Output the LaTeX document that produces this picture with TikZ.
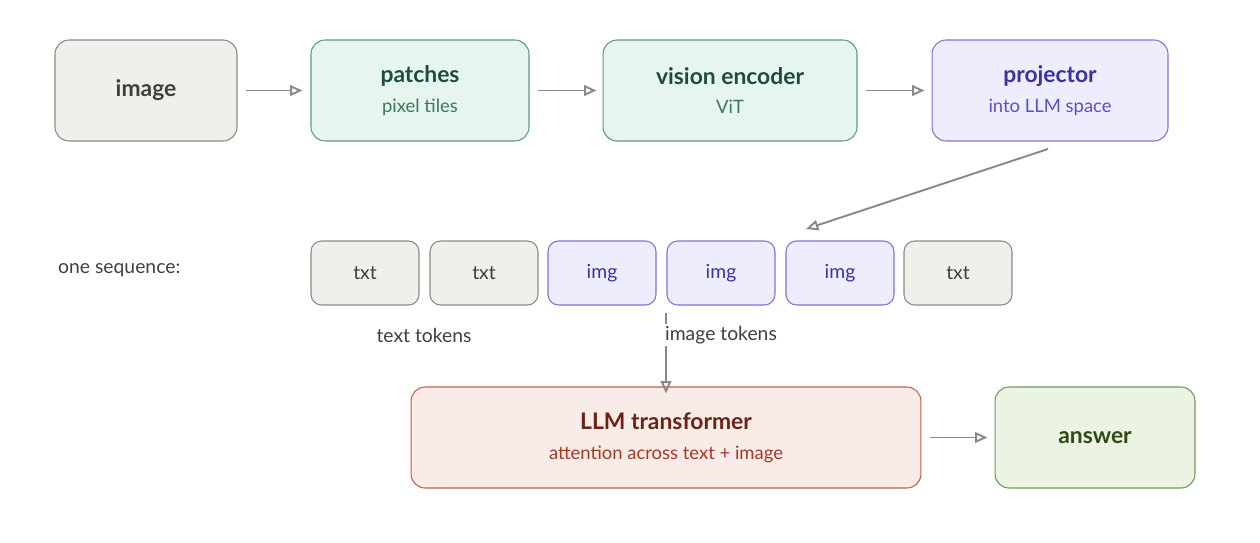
\documentclass[tikz,border=0pt]{standalone}
\usepackage{fontspec}
\setmainfont{Lato}
\usetikzlibrary{positioning, arrows.meta}

\definecolor{grayfill}{HTML}{F0EFEB}
\definecolor{graydraw}{HTML}{8A8A85}
\definecolor{graytext}{HTML}{3F3F3C}
\definecolor{greenfill}{HTML}{E6F5EF}
\definecolor{greendraw}{HTML}{5A9A7F}
\definecolor{greentext}{HTML}{1F4D3A}
\definecolor{greensub}{HTML}{3A7A5A}
\definecolor{bluefill}{HTML}{EEEDFD}
\definecolor{bluedraw}{HTML}{7B74D8}
\definecolor{bluetext}{HTML}{3B32A0}
\definecolor{bluesub}{HTML}{5A50C8}
\definecolor{redfill}{HTML}{F9ECE8}
\definecolor{reddraw}{HTML}{C0604A}
\definecolor{redtext}{HTML}{6B2413}
\definecolor{redsub}{HTML}{A23A1F}
\definecolor{ansfill}{HTML}{EBF3E2}
\definecolor{ansdraw}{HTML}{6F9A50}
\definecolor{anstext}{HTML}{2D4A12}
\definecolor{arrowgray}{HTML}{8A8A85}

\tikzset{
  box/.style = {draw, rounded corners=8pt, line width=0.6pt, align=center,
                minimum height=2.02cm, inner sep=0pt},
  tok/.style = {draw, rounded corners=6pt, line width=0.6pt,
                minimum width=2.16cm, minimum height=1.28cm, font=\fontsize{11}{13}\selectfont},
  graybox/.style = {fill=grayfill, draw=graydraw, text=graytext},
  greenbox/.style = {fill=greenfill, draw=greendraw, text=greentext},
  bluebox/.style = {fill=bluefill, draw=bluedraw, text=bluetext},
  flow/.style = {-{Stealth[length=7pt, width=6pt, inset=0pt, open]}, draw=arrowgray, line width=1.1pt},
}
\newcommand{\ttl}[1]{{\fontsize{13}{15}\selectfont\bfseries #1}}
\newcommand{\sbt}[2]{{\fontsize{10.5}{13}\selectfont\color{#1}#2}}

\begin{document}
\begin{tikzpicture}[x=0.02cm, y=-0.02cm]
	\useasboundingbox (0,0) rectangle (1260,542);

	\node[box, graybox, minimum width=3.64cm] (img) at (146,90.5) {\ttl{image}};
	\node[box, greenbox, minimum width=4.36cm] (pat) at (420,90.5)
		{\ttl{patches}\\[5pt]\sbt{greensub}{pixel tiles}};
	\node[box, greenbox, minimum width=5.08cm] (enc) at (730,90.5)
		{\ttl{vision encoder}\\[5pt]\sbt{greensub}{ViT}};
	\node[box, bluebox, minimum width=4.72cm] (proj) at (1050,90.5)
		{\ttl{projector}\\[5pt]\sbt{bluesub}{into LLM space}};

	\node[anchor=west, text=graytext, font=\fontsize{11}{13}\selectfont] (seq) at (52,270) {one sequence:};

	\node[tok, graybox] (t1) at (365,273) {txt};
	\node[tok, graybox] (t2) at (484,273) {txt};
	\node[tok, bluebox] (t3) at (602,273) {img};
	\node[tok, bluebox] (t4) at (721,273) {img};
	\node[tok, bluebox] (t5) at (840,273) {img};
	\node[tok, graybox] (t6) at (958,273) {txt};

	\coordinate (tick) at (666,313);
	\node[box, fill=redfill, draw=reddraw, text=redtext, minimum width=10.2cm] (llm) at (666,437.5)
		{\ttl{LLM transformer}\\[5pt]\sbt{redsub}{attention across text + image}};
	\node[box, fill=ansfill, draw=ansdraw, text=anstext, minimum width=4cm] (ans) at (1095,437.5)
		{\ttl{answer}};

	\draw[flow] (tick) -- ([yshift=-0.14cm]llm.north);
	\node[text=graytext, font=\fontsize{11}{13}\selectfont] (txtlab) at (424,335) {text tokens};
	\node[fill=white, text=graytext, font=\fontsize{11}{13}\selectfont, inner sep=1pt] (imglab) at (721,335) {image tokens};

	\draw[flow] ([xshift=0.16cm]img.east) -- ([xshift=-0.16cm]pat.west);
	\draw[flow] ([xshift=0.16cm]pat.east) -- ([xshift=-0.12cm]enc.west);
	\draw[flow] ([xshift=0.16cm]enc.east) -- ([xshift=-0.14cm]proj.west);
	\draw[flow] (1048,149) -- (806,229);
	\draw[flow] ([xshift=0.18cm]llm.east) -- ([xshift=-0.14cm]ans.west);
\end{tikzpicture}
\end{document}
